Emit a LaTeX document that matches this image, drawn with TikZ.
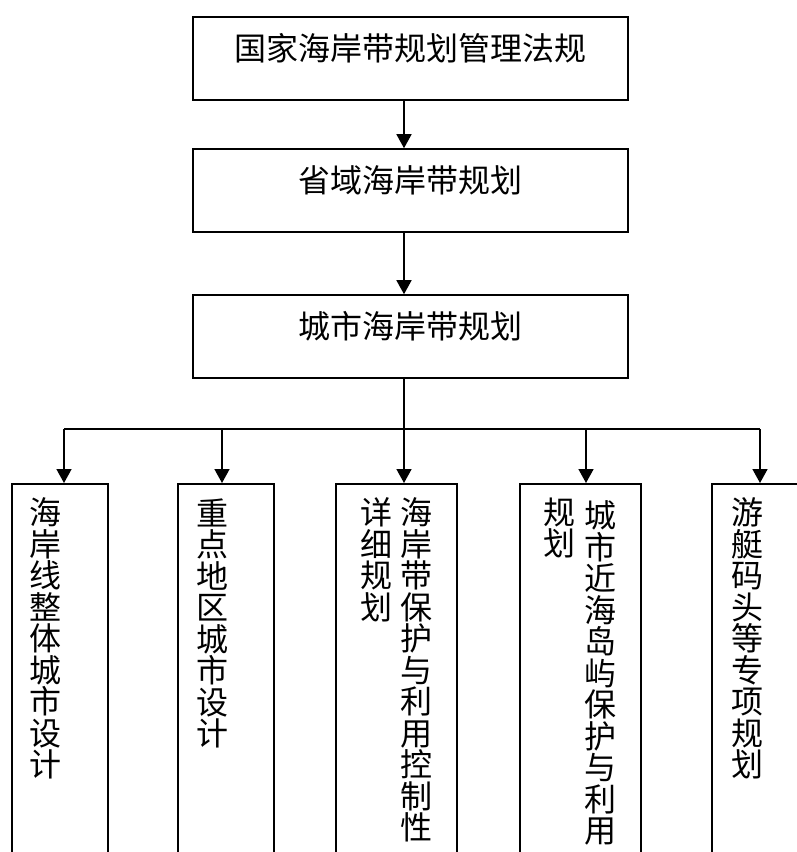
\documentclass[tikz,border=0pt]{standalone}
\usepackage{fontspec}
\newfontfamily\cjk{Noto Sans CJK SC}
\usetikzlibrary{arrows.meta}
\XeTeXlinebreaklocale "zh"
\XeTeXlinebreakskip=0pt plus 1pt

\begin{document}
\begin{tikzpicture}[x=1pt, y=-1pt, line width=1.6pt,
  font=\cjk\fontsize{32}{38}\selectfont,
  topbox/.style={draw, minimum width=435, minimum height=83, inner sep=0pt, text height=29pt, text depth=26pt},
  subbox/.style={draw, anchor=north, minimum height=420},
  vcol/.style={anchor=north, inner sep=0pt, text width=32pt, align=center, font=\cjk\fontsize{32}{31.5}\selectfont},
  arr/.style={-{Triangle[length=14pt, width=15pt]}}]
  \useasboundingbox (0,0) rectangle (797,852);
  \clip (0,0) rectangle (797,852);
  % three planning levels
  \node[topbox] (law)  at (410.5,58.5)  {国家海岸带规划管理法规};
  \node[topbox] (prov) at (410.5,190.5) {省域海岸带规划};
  \node[topbox] (city) at (410.5,336.5) {城市海岸带规划};
  % special plans, cut off by the page edge
  \node[subbox, minimum width=96]  (p1) at (60,483)    {};
  \node[subbox, minimum width=96]  (p2) at (226,483)   {};
  \node[subbox, minimum width=121] (p3) at (396.5,483) {};
  \node[subbox, minimum width=121] (p4) at (580.5,483) {};
  \node[subbox, minimum width=121] (p5) at (772.5,483) {};
  \node[vcol] (t1)  at (46,497)    {海岸线整体城市设计};
  \node[vcol] (t2)  at (212.5,498) {重点地区城市设计};
  \node[vcol] (t3a) at (416,497)   {海岸带保护与利用控制性};
  \node[vcol] (t3b) at (376,497)   {详细规划};
  \node[vcol] (t4a) at (600,500)   {城市近海岛屿保护与利用};
  \node[vcol] (t4b) at (559.5,497) {规划};
  \node[vcol] (t5)  at (747,497)   {游艇码头等专项规划};
  % connectors
  \coordinate (trunk) at (404,0);
  \draw[arr] (law.south -| trunk) -- (prov.north -| trunk);
  \draw[arr] (prov.south -| trunk) -- (city.north -| trunk);
  \coordinate (busL) at (64,429);
  \coordinate (busR) at (760,429);
  \draw (city.south -| trunk) -- (trunk |- busL);
  \draw (busL) -- (busR);
  \foreach \x/\p in {64/p1, 222/p2, 404/p3, 586/p4, 760/p5}{
    \coordinate (d\p) at (\x,429);
    \draw[arr] (d\p) -- (d\p |- \p.north);
  }
\end{tikzpicture}
\end{document}
